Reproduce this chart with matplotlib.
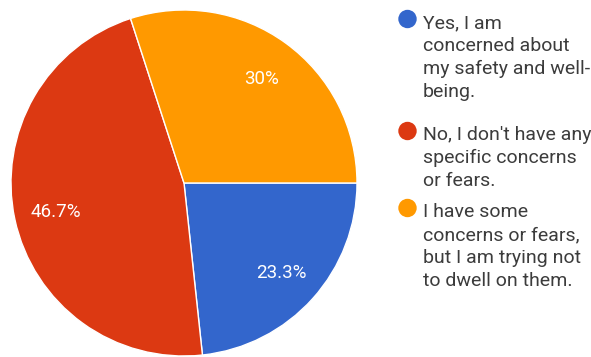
import numpy as np
import matplotlib.pyplot as plt
from matplotlib.patches import Circle

labels = [
    "Yes, I am\nconcerned about\nmy safety and well-\nbeing.",
    "No, I don't have any\nspecific concerns\nor fears.",
    "I have some\nconcerns or fears,\nbut I am trying not\nto dwell on them.",
]
shares = [23.3, 46.7, 30.0]
pct_text = ["23.3%", "46.7%", "30%"]
colors = ["#3366CC", "#DC3912", "#FF9900"]

W, H = 591, 357
fig = plt.figure(figsize=(W / 100, H / 100), dpi=100)
fig.patch.set_facecolor("white")

# pie area in pixel units: centre (184, 183), radius 173
cx, cy, r = 184, 183, 173
ax = fig.add_axes([(cx - r) / W, (H - cy - r) / H, 2 * r / W, 2 * r / H])
wedges, _ = ax.pie(
    shares, colors=colors, startangle=0, counterclock=False,
    wedgeprops=dict(edgecolor="white", linewidth=1.0),
)
ax.set_xlim(-1, 1)
ax.set_ylim(-1, 1)
ax.set_aspect("equal")
ax.axis("off")

# percentage labels along each wedge's mid-angle
for w, t in zip(wedges, pct_text):
    mid = np.deg2rad((w.theta1 + w.theta2) / 2)
    rr = 0.76
    ax.text(rr * np.cos(mid), rr * np.sin(mid), t, color="white",
            fontsize=13.5, family="Roboto", ha="center", va="center_baseline")

# legend drawn in a pixel-space overlay
lg = fig.add_axes([0, 0, 1, 1])
lg.set_xlim(0, W)
lg.set_ylim(H, 0)
lg.axis("off")
lg.patch.set_visible(False)

first_baseline = [28, 140, 217]
line_pitch = 23
for lab, col, yb in zip(labels, colors, first_baseline):
    lg.add_patch(Circle((407.5, yb - 9), 9.2, facecolor=col, edgecolor="none"))
    for i, line in enumerate(lab.split("\n")):
        lg.text(423, yb + i * line_pitch, line, color="#3c3c3c", fontsize=14,
                family="Roboto", ha="left", va="baseline")

fig.savefig("out.png", dpi=100)
